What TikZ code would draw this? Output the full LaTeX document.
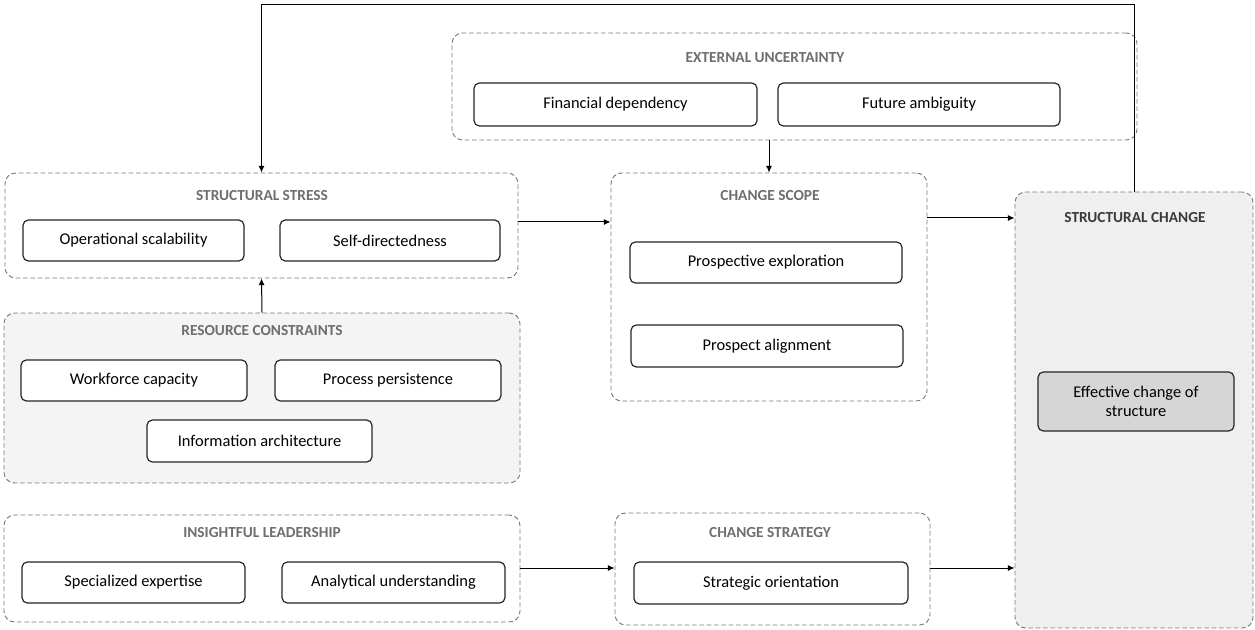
\documentclass[tikz,border=0pt]{standalone}
\usepackage{fontspec}
\setmainfont{Carlito}
\usetikzlibrary{fit,arrows.meta}
\definecolor{ttl}{HTML}{6E6E6E}
\definecolor{ttldark}{HTML}{3A3A3A}
\definecolor{cont}{HTML}{7A7A7A}
\definecolor{rcfill}{HTML}{F4F4F4}
\definecolor{scfill}{HTML}{EFEFEF}
\definecolor{effill}{HTML}{D6D6D6}
\tikzset{
  cbox/.style={draw=black!85, line width=0.9pt, rounded corners=4pt, fill=white, inner sep=0pt, font=\fontsize{12.3}{14}\selectfont, align=center},
  grp/.style={draw=cont, dash pattern=on 3.5pt off 2pt, line width=0.7pt, rounded corners=8pt, inner sep=0pt},
  gtitle/.style={font=\bfseries\fontsize{11.5}{13}\selectfont, text=ttl, inner sep=0pt},
  arr/.style={-{Latex[length=5pt,width=4.5pt]}, line width=0.75pt, black}
}
\newcommand\bx[7][]{\node[cbox,#1,minimum width={(#4-#2)*0.75pt},minimum height={(#5-#3)*0.75pt}] (#6) at ({(#2+#4)/2},{(#3+#5)/2}) {#7};}
\begin{document}
\begin{tikzpicture}[x=0.75pt,y=-0.75pt]
\useasboundingbox (0,0) rectangle (1255,630);
% containers
\node[grp, fit={(452,33) (1137,140)}] (eu) {};
\node[grp, fit={(5,173) (518,278)}] (ss) {};
\node[grp, fill=rcfill, fit={(4,313) (520,483)}] (rc) {};
\node[grp, fit={(611,173) (927,401)}] (cs) {};
\node[grp, fill=scfill, fit={(1015,192) (1253,628)}] (sc) {};
\node[grp, fit={(4,515) (520,622)}] (il) {};
\node[grp, fit={(615,513) (930,625)}] (cst) {};
% titles
\node[gtitle] (teu) at (765,58) {EXTERNAL UNCERTAINTY};
\node[gtitle] (tss) at (262,196) {STRUCTURAL STRESS};
\node[gtitle] (trc) at (262,331) {RESOURCE CONSTRAINTS};
\node[gtitle] (tcs) at (770,196) {CHANGE SCOPE};
\node[gtitle, text=ttldark] (tsc) at (1135,218) {STRUCTURAL CHANGE};
\node[gtitle] (til) at (262,533) {INSIGHTFUL LEADERSHIP};
\node[gtitle] (tcst) at (770,533) {CHANGE STRATEGY};
% boxes
\bx{474}{83}{757}{126}{fd}{Financial dependency}
\bx{778}{83}{1060}{126}{fa}{Future ambiguity}
\bx{23}{220}{244}{261}{os}{Operational scalability}
\bx{280}{220}{500}{261}{sd}{Self-directedness}
\bx{21}{360}{247}{401}{wc}{Workforce capacity}
\bx{275}{360}{501}{401}{pp}{Process persistence}
\bx{147}{420}{372}{462}{ia}{Information architecture}
\bx{630}{242}{902}{283}{pe}{Prospective exploration}
\bx{631}{325}{903}{367}{pa}{Prospect alignment}
\bx[fill=effill]{1038}{372}{1234}{431}{ec}{Effective change of\\structure}
\bx{22}{562}{245}{603}{se}{Specialized expertise}
\bx{282}{562}{505}{603}{au}{Analytical understanding}
\bx{634}{562}{908}{604}{so}{Strategic orientation}
% connectors
\draw[arr] (sc.north) -- (sc.north |- 0,5) -| (ss.north);
\draw[arr] (cs.north |- eu.south) -- (cs.north);
\draw[arr] (rc.north) -- (ss.south);
\draw[arr] (ss.east |- 0,222) -- (cs.west |- 0,222);
\draw[arr] (cs.east |- 0,218) -- (sc.west |- 0,218);
\draw[arr] (il.east |- 0,568) -- (cst.west |- 0,568);
\draw[arr] (cst.east |- 0,568) -- (sc.west |- 0,568);
\end{tikzpicture}
\end{document}
